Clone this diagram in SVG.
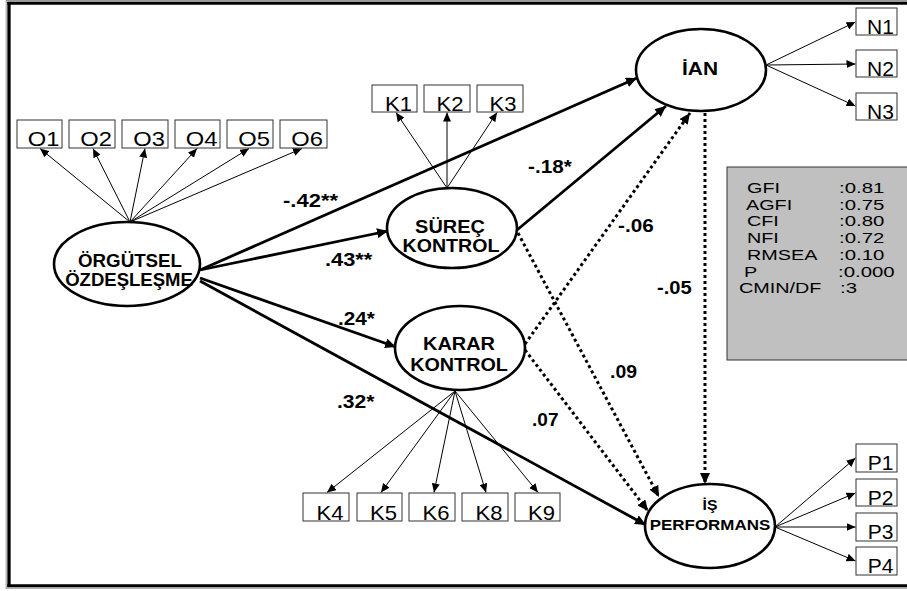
<svg xmlns="http://www.w3.org/2000/svg" width="907" height="591" viewBox="0 0 907 591">
<style>
text{font-family:"Liberation Sans",Arial,sans-serif;fill:#000}
.lv{font-size:17.5px;font-weight:bold;text-anchor:middle}
.obs{font-size:21px;text-anchor:middle}
.lab{font-size:18.5px;font-weight:bold}
.st{font-size:15px}
.box{fill:#fff;stroke:#333;stroke-width:1}
.ell{fill:#fff;stroke:#000;stroke-width:2.6}
.thin{stroke:#000;stroke-width:1;fill:none;marker-end:url(#ah)}
.thick{stroke:#000;stroke-width:2.8;fill:none;marker-end:url(#ahb)}
.dot{stroke:#000;stroke-width:3;stroke-dasharray:3 3;fill:none;marker-end:url(#ahb)}
</style>
<defs>
<marker id="ah" markerUnits="userSpaceOnUse" markerWidth="10" markerHeight="8" refX="9" refY="4" orient="auto"><path d="M0,0 L9,4 L0,8 z" fill="#000"/></marker>
<marker id="ahb" markerUnits="userSpaceOnUse" markerWidth="12" markerHeight="10" refX="11" refY="5" orient="auto"><path d="M0,0 L11,5 L0,10 z" fill="#000"/></marker>
</defs>
<rect x="0" y="0" width="907" height="591" fill="#fff"/>
<g id="frame">
<line x1="6" y1="0.8" x2="907" y2="0.8" stroke="#999" stroke-width="1.6"/>
<line x1="6.2" y1="0" x2="6.2" y2="589" stroke="#999" stroke-width="1"/>
<line x1="7.3" y1="3.2" x2="907" y2="3.2" stroke="#000" stroke-width="3"/>
<line x1="9" y1="2" x2="9" y2="587" stroke="#000" stroke-width="3.3"/>
<line x1="7.3" y1="585.7" x2="907" y2="585.7" stroke="#000" stroke-width="3"/>
<line x1="6" y1="588" x2="907" y2="588" stroke="#999" stroke-width="1.4"/>
</g>
<g id="connectors">
<line class="thin" x1="130" y1="222" x2="40" y2="148.5"/>
<line class="thin" x1="130" y1="222" x2="93" y2="148.5"/>
<line class="thin" x1="130" y1="222" x2="145" y2="148.5"/>
<line class="thin" x1="130" y1="222" x2="197" y2="148.5"/>
<line class="thin" x1="130" y1="222" x2="249" y2="148.5"/>
<line class="thin" x1="130" y1="222" x2="302" y2="148.5"/>
<line class="thin" x1="447" y1="188" x2="396" y2="112.5"/>
<line class="thin" x1="447" y1="188" x2="447" y2="112.5"/>
<line class="thin" x1="447" y1="188" x2="497" y2="112.5"/>
<line class="thin" x1="766" y1="65" x2="855.5" y2="22"/>
<line class="thin" x1="766" y1="65" x2="855.5" y2="64"/>
<line class="thin" x1="766" y1="65" x2="855.5" y2="106"/>
<line class="thin" x1="455" y1="391" x2="327" y2="492.5"/>
<line class="thin" x1="455" y1="391" x2="381" y2="492.5"/>
<line class="thin" x1="455" y1="391" x2="434" y2="492.5"/>
<line class="thin" x1="455" y1="391" x2="486" y2="492.5"/>
<line class="thin" x1="455" y1="391" x2="538" y2="492.5"/>
<line class="thin" x1="775" y1="527" x2="855.5" y2="458"/>
<line class="thin" x1="775" y1="527" x2="855.5" y2="493"/>
<line class="thin" x1="775" y1="527" x2="855.5" y2="527"/>
<line class="thin" x1="775" y1="527" x2="855.5" y2="561"/>
<line class="thick" x1="200" y1="270" x2="637" y2="78"/>
<line class="thick" x1="200" y1="270" x2="388" y2="231"/>
<line class="thick" x1="200" y1="278" x2="396" y2="347"/>
<line class="thick" x1="200" y1="281" x2="646" y2="525"/>
<line class="thick" x1="517" y1="230" x2="666" y2="106"/>
<line class="dot" x1="518" y1="233" x2="659" y2="497"/>
<line class="dot" x1="525" y1="344" x2="690" y2="113"/>
<line class="dot" x1="525" y1="350" x2="648" y2="511"/>
<line class="dot" x1="705" y1="113" x2="705" y2="484"/>
</g>
<g id="OZ">
<ellipse class="ell" cx="127" cy="264" rx="73" ry="42"/>
<text class="lv" transform="translate(130,267) scale(1.07,1)">ÖRGÜTSEL</text>
<text class="lv" transform="translate(129,286) scale(1.06,1)">ÖZDEŞLEŞME</text>
</g>
<g id="SK">
<ellipse class="ell" cx="452" cy="228" rx="65" ry="40"/>
<text class="lv" transform="translate(450,233) scale(1.14,1)">SÜREÇ</text>
<text class="lv" transform="translate(451,252) scale(1.12,1)">KONTROL</text>
</g>
<g id="KK">
<ellipse class="ell" cx="460" cy="348" rx="65" ry="42"/>
<text class="lv" transform="translate(459,350) scale(1.14,1)">KARAR</text>
<text class="lv" transform="translate(459,371) scale(1.13,1)">KONTROL</text>
</g>
<g id="IAN">
<ellipse class="ell" cx="701" cy="70" rx="65" ry="41"/>
<text class="lv" style="font-size:18.5px" transform="translate(700,75) scale(1.13,1)">İAN</text>
</g>
<g id="IP">
<ellipse class="ell" cx="710" cy="526" rx="65" ry="42"/>
<text class="lv" style="font-size:15px" transform="translate(710,510) scale(1.05,1)">İŞ</text>
<text class="lv" style="font-size:15px" transform="translate(710,530) scale(1.13,1)">PERFORMANS</text>
</g>
<g id="O1"><rect class="box" x="17" y="120" width="45" height="28"/><text class="obs" transform="translate(43.5,145.5) scale(1.13,1)">O1</text></g>
<g id="O2"><rect class="box" x="69" y="120" width="46" height="28"/><text class="obs" transform="translate(96,145.5) scale(1.13,1)">O2</text></g>
<g id="O3"><rect class="box" x="122" y="120" width="46" height="28"/><text class="obs" transform="translate(149,145.5) scale(1.13,1)">O3</text></g>
<g id="O4"><rect class="box" x="175" y="120" width="45" height="28"/><text class="obs" transform="translate(201.5,145.5) scale(1.13,1)">O4</text></g>
<g id="O5"><rect class="box" x="227" y="120" width="46" height="28"/><text class="obs" transform="translate(254,145.5) scale(1.13,1)">O5</text></g>
<g id="O6"><rect class="box" x="280" y="120" width="47" height="28"/><text class="obs" transform="translate(307,145.5) scale(1.13,1)">O6</text></g>
<g id="K1"><rect class="box" x="372" y="85" width="45" height="27"/><text class="obs" transform="translate(398.5,110.5) scale(1.05,1)">K1</text></g>
<g id="K2"><rect class="box" x="424" y="85" width="46" height="27"/><text class="obs" transform="translate(450,110.5) scale(1.05,1)">K2</text></g>
<g id="K3"><rect class="box" x="477" y="85" width="46" height="27"/><text class="obs" transform="translate(503,110.5) scale(1.05,1)">K3</text></g>
<g id="N1"><rect class="box" x="856" y="8" width="41" height="27"/><text class="obs" transform="translate(880.5,33.5)">N1</text></g>
<g id="N2"><rect class="box" x="856" y="50" width="41" height="27"/><text class="obs" transform="translate(880.5,75.5)">N2</text></g>
<g id="N3"><rect class="box" x="856" y="93" width="41" height="27"/><text class="obs" transform="translate(880.5,118.5)">N3</text></g>
<g id="K4"><rect class="box" x="303" y="493" width="46" height="28"/><text class="obs" transform="translate(330,519.5) scale(1.05,1)">K4</text></g>
<g id="K5"><rect class="box" x="357" y="493" width="45" height="28"/><text class="obs" transform="translate(383.5,519.5) scale(1.05,1)">K5</text></g>
<g id="K6"><rect class="box" x="409" y="493" width="46" height="28"/><text class="obs" transform="translate(436,519.5) scale(1.05,1)">K6</text></g>
<g id="K8"><rect class="box" x="462" y="493" width="46" height="28"/><text class="obs" transform="translate(489,519.5) scale(1.05,1)">K8</text></g>
<g id="K9"><rect class="box" x="515" y="493" width="45" height="28"/><text class="obs" transform="translate(541.5,519.5) scale(1.05,1)">K9</text></g>
<g id="P1"><rect class="box" x="856" y="444" width="41" height="28"/><text class="obs" transform="translate(880.5,470)">P1</text></g>
<g id="P2"><rect class="box" x="856" y="479" width="41" height="27"/><text class="obs" transform="translate(880.5,504.5)">P2</text></g>
<g id="P3"><rect class="box" x="856" y="513" width="41" height="28"/><text class="obs" transform="translate(880.5,539)">P3</text></g>
<g id="P4"><rect class="box" x="856" y="547" width="41" height="28"/><text class="obs" transform="translate(880.5,573)">P4</text></g>
<g id="labels">
<text class="lab" transform="translate(283,207) scale(1.19,1)">-.42**</text>
<text class="lab" transform="translate(325,266) scale(1.18,1)">.43**</text>
<text class="lab" transform="translate(338,325) scale(1.12,1)">.24*</text>
<text class="lab" transform="translate(337,408) scale(1.14,1)">.32*</text>
<text class="lab" transform="translate(528,173) scale(1.12,1)">-.18*</text>
<text class="lab" transform="translate(618,232) scale(1.12,1)">-.06</text>
<text class="lab" transform="translate(657,294) scale(1.09,1)">-.05</text>
<text class="lab" transform="translate(610,378) scale(1.05,1)">.09</text>
<text class="lab" transform="translate(532,426) scale(1.03,1)">.07</text>
</g>
<g id="fit">
<rect x="727" y="167" width="185" height="193" fill="#c0c0c0" stroke="#333" stroke-width="1"/>
<text class="st" transform="translate(747,193) scale(1.32,1)">GFI</text>
<text class="st" transform="translate(746,210) scale(1.32,1)">AGFI</text>
<text class="st" transform="translate(747,226) scale(1.32,1)">CFI</text>
<text class="st" transform="translate(747,243) scale(1.32,1)">NFI</text>
<text class="st" transform="translate(747,260) scale(1.32,1)">RMSEA</text>
<text class="st" transform="translate(744,277) scale(1.32,1)">P</text>
<text class="st" transform="translate(739,293) scale(1.32,1)">CMIN/DF</text>
<text class="st" transform="translate(839,193) scale(1.36,1)">:0.81</text>
<text class="st" transform="translate(839,210) scale(1.36,1)">:0.75</text>
<text class="st" transform="translate(839,226) scale(1.36,1)">:0.80</text>
<text class="st" transform="translate(839,243) scale(1.36,1)">:0.72</text>
<text class="st" transform="translate(839,260) scale(1.36,1)">:0.10</text>
<text class="st" transform="translate(838,277) scale(1.36,1)">:0.000</text>
<text class="st" transform="translate(840,293) scale(1.36,1)">:3</text>
</g>
</svg>
